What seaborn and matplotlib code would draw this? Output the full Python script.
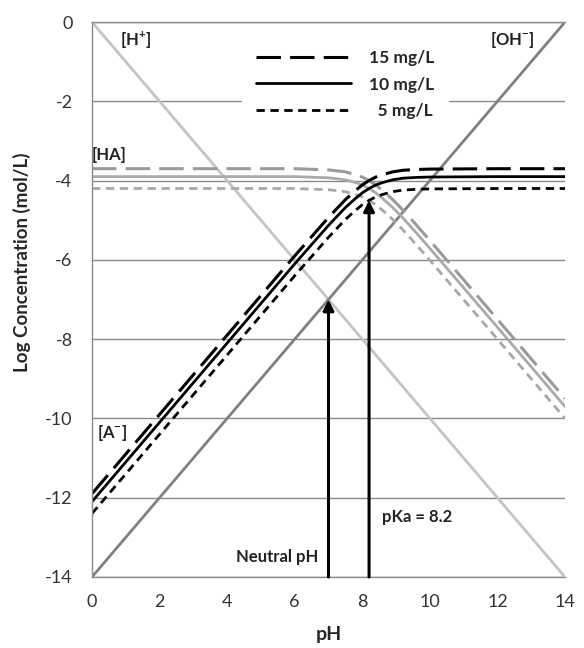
import numpy as np
import pandas as pd
import matplotlib
matplotlib.use('Agg')
import matplotlib.pyplot as plt
from matplotlib.lines import Line2D
import seaborn as sns

# pH sample points
ph = [0, 2, 4, 6, 7, 7.5, 7.8, 8.0, 8.2, 8.4, 8.6, 8.9, 9.2, 9.6, 10, 12, 14]

# log [HA] for each total concentration
ha_15 = [-3.70, -3.70, -3.70, -3.70, -3.73, -3.78, -3.85, -3.91, -4.00, -4.11, -4.25, -4.48, -4.74, -5.12, -5.51, -7.50, -9.50]
ha_10 = [-3.90, -3.90, -3.90, -3.90, -3.93, -3.98, -4.05, -4.11, -4.20, -4.31, -4.45, -4.68, -4.94, -5.32, -5.71, -7.70, -9.70]
ha_5 = [-4.20, -4.20, -4.20, -4.20, -4.23, -4.28, -4.35, -4.41, -4.50, -4.61, -4.75, -4.98, -5.24, -5.62, -6.01, -8.00, -10.00]

# log [A-] for each total concentration
a_15 = [-11.90, -9.90, -7.90, -5.90, -4.93, -4.48, -4.25, -4.11, -4.00, -3.91, -3.85, -3.78, -3.74, -3.72, -3.71, -3.70, -3.70]
a_10 = [-12.10, -10.10, -8.10, -6.10, -5.13, -4.68, -4.45, -4.31, -4.20, -4.11, -4.05, -3.98, -3.94, -3.92, -3.91, -3.90, -3.90]
a_5 = [-12.40, -10.40, -8.40, -6.40, -5.43, -4.98, -4.75, -4.61, -4.50, -4.41, -4.35, -4.28, -4.24, -4.22, -4.21, -4.20, -4.20]

# [H+] and [OH-] end points
ph_ends = [0, 14]
h_line = [0, -14]
oh_line = [-14, 0]

neutral_ph = 7
neutral_tip = -7
pka = 8.2
pka_tip = -4.5

legend_labels = ['15 mg/L', '10 mg/L', '  5 mg/L']

sns.set_style('white')
plt.rcParams['font.family'] = ['Lato', 'DejaVu Sans']
plt.rcParams['axes.unicode_minus'] = False
plt.rcParams['mathtext.fontset'] = 'custom'
plt.rcParams['mathtext.rm'] = 'Lato'
plt.rcParams['mathtext.bf'] = 'Lato:bold'

fig = plt.figure(figsize=(5.84, 6.48), dpi=100)
ax = fig.add_axes([0.1575, 0.1096, 0.81, 0.8564])

long_dash = (0, (8, 3))
short_dash = (0, (3, 2))

# [H+] and [OH-]
sns.lineplot(x=ph_ends, y=h_line, ax=ax, color='#c4c4c4', lw=2)
sns.lineplot(x=ph_ends, y=oh_line, ax=ax, color='#808080', lw=2)

# HA curves (gray)
sns.lineplot(x=ph, y=ha_15, ax=ax, color='#9a9a9a', lw=2.2, linestyle=long_dash)
sns.lineplot(x=ph, y=ha_10, ax=ax, color='#aaaaaa', lw=2)
sns.lineplot(x=ph, y=ha_5, ax=ax, color='#a8a8a8', lw=2, linestyle=short_dash)

# A- curves (black)
sns.lineplot(x=ph, y=a_15, ax=ax, color='black', lw=2.2, linestyle=long_dash)
sns.lineplot(x=ph, y=a_10, ax=ax, color='black', lw=2)
sns.lineplot(x=ph, y=a_5, ax=ax, color='black', lw=2, linestyle=short_dash)

# arrows
arrow = dict(arrowstyle='-|>', color='black', lw=2.2, mutation_scale=16, shrinkA=0, shrinkB=0)
ax.annotate('', xy=(neutral_ph, neutral_tip), xytext=(neutral_ph, -14), arrowprops=arrow)
ax.annotate('', xy=(pka, pka_tip), xytext=(pka, -14), arrowprops=arrow)

ax.set_xlim(0, 14)
ax.set_ylim(-14, 0)
ax.set_xticks(range(0, 15, 2))
ax.set_yticks(range(-14, 1, 2))
ax.yaxis.grid(True, color='#8a8a8a', lw=1)
ax.xaxis.grid(False)
ax.set_axisbelow(True)
for side in ['left', 'top', 'bottom']:
    ax.spines[side].set_color('#8a8a8a')
    ax.spines[side].set_linewidth(1)
ax.spines['right'].set_visible(False)
ax.tick_params(axis='both', length=0, labelsize=13, colors='#333333')
ax.tick_params(axis='y', pad=14)
ax.tick_params(axis='x', pad=12)

ax.set_xlabel('pH', fontsize=14, fontweight='bold')
ax.set_ylabel('Log Concentration (mol/L)', fontsize=13.5, fontweight='bold')
ax.yaxis.set_label_coords(-0.129, 0.567)
ax.xaxis.set_label_coords(0.5, -0.088)

# annotations
tkw = dict(fontsize=12, fontweight='bold', color='#222222', va='center')
ax.text(0.83, -0.45, r'[H$^{\mathbf{+}}$]', ha='left', **tkw)
ax.text(11.78, -0.45, r'[OH$^{\mathbf{-}}$]', ha='left', **tkw)
ax.text(0.0, -3.35, '[HA]', ha='left', **tkw)
ax.text(0.15, -10.37, r'[A$^{\mathbf{-}}$]', ha='left', **tkw)
ax.text(6.69, -13.5, 'Neutral pH', ha='right', **tkw)
ax.text(8.58, -12.49, 'pKa = 8.2', ha='left', **tkw)

# legend
handles = [Line2D([], [], color='black', lw=2.2, linestyle=long_dash),
           Line2D([], [], color='black', lw=2),
           Line2D([], [], color='black', lw=2, linestyle=short_dash)]
leg = ax.legend(handles, legend_labels, loc='upper center', bbox_to_anchor=(0.535, 0.99),
                frameon=True, fancybox=False, framealpha=1, edgecolor='white', facecolor='white',
                handlelength=5.5, handletextpad=1.0, labelspacing=0.6, borderpad=0.8,
                prop={'weight': 'bold', 'size': 12.5})
leg.set_zorder(5)

fig.savefig('out.png', dpi=100)
